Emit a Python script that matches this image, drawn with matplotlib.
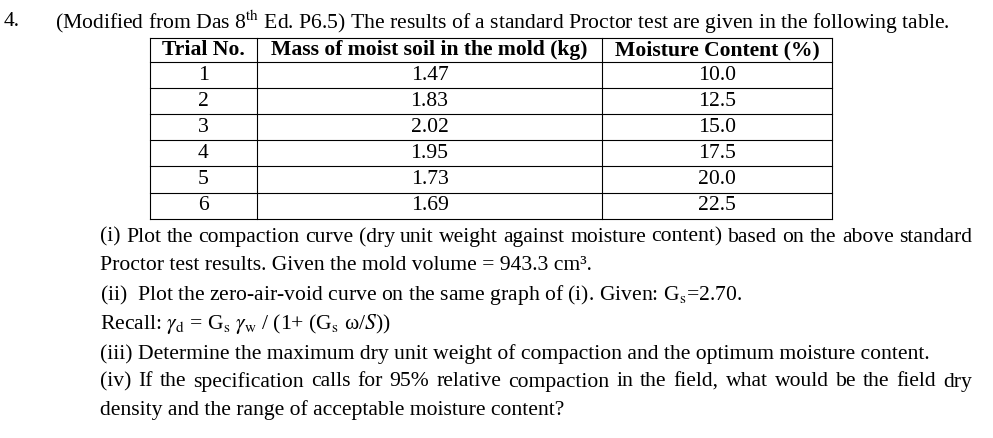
import matplotlib.pyplot as plt
from matplotlib.lines import Line2D

plt.rcParams['font.family'] = ['Liberation Serif', 'DejaVu Serif']
plt.rcParams['mathtext.fontset'] = 'stix'

W, H = 993, 438
FS = 15.6

headers = ["Trial No.", "Mass of moist soil in the mold (kg)", "Moisture Content (%)"]
trials = ["1", "2", "3", "4", "5", "6"]
mass = ["1.47", "1.83", "2.02", "1.95", "1.73", "1.69"]
moisture = ["10.0", "12.5", "15.0", "17.5", "20.0", "22.5"]

col_x = [150, 257, 602, 832]
row_y = [38, 62, 88, 114, 140, 166, 193, 219]

# (x, y, text, justify to right edge)
questions = [
    (100, 237, "(i)  Plot the compaction curve (dry unit weight against moisture content) based on the above standard", True),
    (100, 266, "Proctor test results. Given the mold volume = 943.3 cm³.", False),
    (100, 295, r"(ii)  Plot the zero-air-void curve on the same graph of (i). Given: G$_{\rm s}$=2.70.", False),
    (100, 324, r"Recall: $\gamma_{\rm d}$ = G$_{\rm s}$ $\gamma_{\rm w}$ / (1+ (G$_{\rm s}$ ω/$S$))", False),
    (100, 354, "(iii) Determine the maximum dry unit weight of compaction and the optimum moisture content.", False),
    (100, 382, "(iv) If the specification calls for 95% relative compaction in the field, what would be the field dry", True),
    (100, 410, "density and the range of acceptable moisture content?", False),
]
RIGHT = 972


def fx(x):
    return x / W


def fy(y):
    return 1 - y / H


fig = plt.figure(figsize=(W / 100, H / 100), dpi=100)
fig.patch.set_facecolor('white')
renderer = fig.canvas.get_renderer()

fig.text(fx(4), fy(22), "4.", fontsize=FS, va='center')
fig.text(fx(55), fy(22), r"(Modified from Das 8$^{\rm th}$ Ed. P6.5) The results of a standard Proctor test are given in the following table.",
         fontsize=FS, va='center')

# table grid
for y in row_y:
    fig.add_artist(Line2D([fx(col_x[0]), fx(col_x[-1])], [fy(y), fy(y)], color='black', lw=0.8))
for x in col_x:
    fig.add_artist(Line2D([fx(x), fx(x)], [fy(row_y[0]), fy(row_y[-1])], color='black', lw=0.8))

for j, h in enumerate(headers):
    cx = (col_x[j] + col_x[j + 1]) / 2
    fig.text(fx(cx), fy((row_y[0] + row_y[1]) / 2), h, fontsize=FS, fontweight='bold', ha='center', va='center')

for i in range(len(trials)):
    cy = (row_y[i + 1] + row_y[i + 2]) / 2
    for j, v in enumerate([trials[i], mass[i], moisture[i]]):
        cx = (col_x[j] + col_x[j + 1]) / 2
        fig.text(fx(cx), fy(cy), v, fontsize=FS, ha='center', va='center')

for x, y, s, just in questions:
    if not just:
        fig.text(fx(x), fy(y), s, fontsize=FS, va='center')
        continue
    words = s.split()
    arts = [fig.text(0, fy(y), w, fontsize=FS, va='center') for w in words]
    widths = [a.get_window_extent(renderer).width for a in arts]
    gap = (RIGHT - x - sum(widths)) / (len(words) - 1)
    cur = x
    for a, w in zip(arts, widths):
        a.set_x(fx(cur))
        cur += w + gap

fig.savefig("out.png", dpi=100)
